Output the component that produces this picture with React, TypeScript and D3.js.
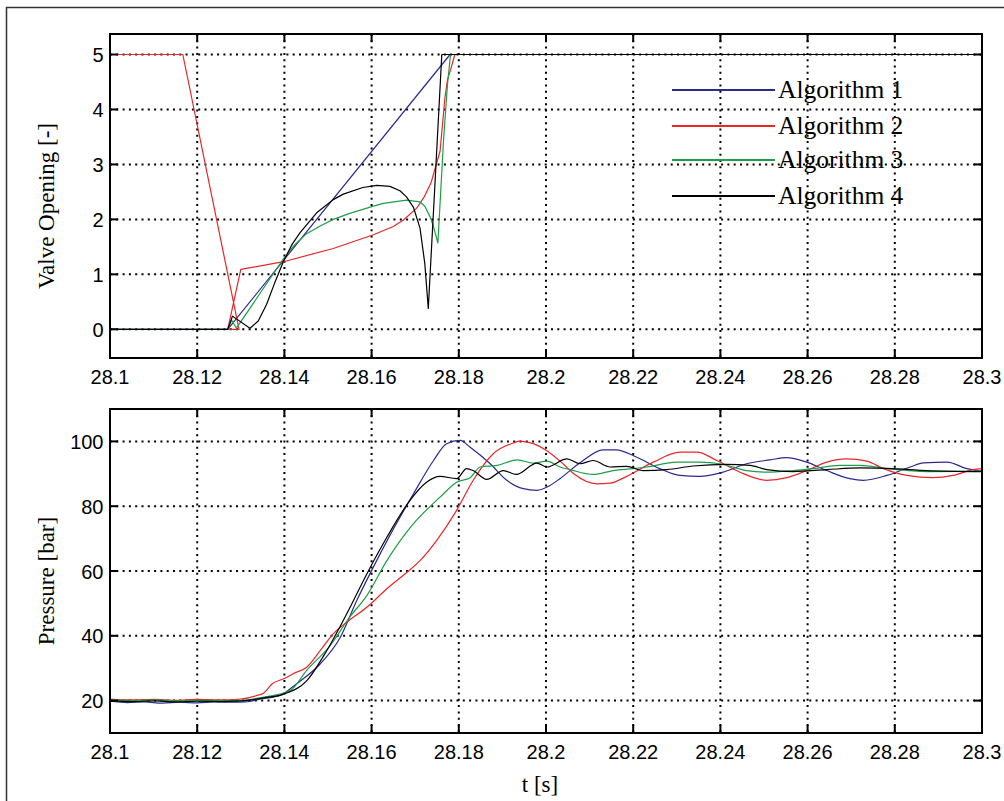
import React from "react";
import * as d3 from "d3";

type P = [number, number];

const xTicks = [28.1, 28.12, 28.14, 28.16, 28.18, 28.2, 28.22, 28.24, 28.26, 28.28, 28.3];
const xTickLabels = ["28.1", "28.12", "28.14", "28.16", "28.18", "28.2", "28.22", "28.24", "28.26", "28.28", "28.3"];
const valveTicks = [0, 1, 2, 3, 4, 5];
const pressureTicks = [20, 40, 60, 80, 100];
const seriesNames = ["Algorithm 1", "Algorithm 2", "Algorithm 3", "Algorithm 4"];
const seriesColors = ["#2b2a8e", "#e8272a", "#1c9e48", "#000000"];

const valveAlg1: P[] = [[28.1, 0], [28.127, 0], [28.178, 5], [28.3, 5]];
const valveAlg2: P[] = [
  [28.1, 5], [28.1167, 5], [28.1296, 0], [28.127, 0], [28.13, 1.09], [28.1398, 1.23], [28.1512, 1.47],
  [28.1604, 1.72], [28.165, 1.87], [28.1673, 1.99], [28.1703, 2.2], [28.172, 2.4], [28.1736, 2.66],
  [28.1757, 3.24], [28.1768, 4.2], [28.1774, 4.54], [28.1781, 4.72], [28.1791, 5], [28.3, 5],
];
const valveAlg3: P[] = [
  [28.1, 0], [28.1271, 0], [28.1279, 0.17], [28.129, 0.02], [28.1401, 1.32], [28.1425, 1.55], [28.1451, 1.74],
  [28.1482, 1.88], [28.1512, 2.0], [28.155, 2.11], [28.1604, 2.24], [28.1627, 2.29], [28.168, 2.35],
  [28.1711, 2.32], [28.1722, 2.24], [28.1734, 2.05], [28.1742, 1.87], [28.1752, 1.57], [28.1765, 3.44],
  [28.1774, 4.45], [28.1781, 5], [28.3, 5],
];
const valveAlg4: P[] = [
  [28.1, 0], [28.127, 0], [28.1281, 0.24], [28.1321, 0.02], [28.134, 0.15], [28.1359, 0.45], [28.1378, 0.85],
  [28.1398, 1.24], [28.1418, 1.55], [28.1436, 1.76], [28.1474, 2.12], [28.1512, 2.36], [28.1535, 2.46],
  [28.158, 2.58], [28.1612, 2.62], [28.1642, 2.6], [28.1665, 2.52], [28.168, 2.41], [28.1696, 2.22],
  [28.1711, 1.84], [28.1722, 1.2], [28.173, 0.38], [28.1745, 2.6], [28.1761, 5], [28.3, 5],
];

const pressureAlg1: P[] = [
  [28.1, 19.8], [28.104, 19.4], [28.108, 19.6], [28.112, 19.2], [28.116, 19.5], [28.12, 19.3], [28.124, 19.6],
  [28.128, 19.5], [28.131, 19.6], [28.135, 20.6], [28.139, 21.6], [28.1428, 25.2], [28.1482, 31.3],
  [28.1528, 39.5], [28.1566, 50.9], [28.1604, 61.2], [28.1642, 71], [28.1696, 83.8], [28.1742, 94.1],
  [28.1772, 99.3], [28.1803, 100.3], [28.1826, 98.2], [28.1872, 93.1], [28.191, 88], [28.1948, 85.4],
  [28.1979, 84.9], [28.2009, 86.4], [28.2032, 88.5], [28.2078, 93.4], [28.2131, 97.4], [28.2161, 97.4],
  [28.2207, 95.2], [28.2261, 91.6], [28.2307, 89.5], [28.2353, 89.2], [28.2406, 90.5], [28.246, 93.1],
  [28.2514, 94.3], [28.2552, 95], [28.2598, 93.6], [28.2644, 91], [28.2697, 88.5], [28.2728, 88],
  [28.2782, 89.5], [28.2835, 92.1], [28.2866, 93.4], [28.292, 93.6], [28.2965, 91.6], [28.3, 90.8],
];
const pressureAlg2: P[] = [
  [28.1, 20.5], [28.105, 20.2], [28.11, 20.4], [28.115, 20.1], [28.12, 20.4], [28.125, 20.2], [28.13, 20.5],
  [28.1335, 21.5], [28.1352, 22.3], [28.1372, 25.2], [28.14, 26.8], [28.142, 28.3], [28.1451, 30.3],
  [28.1482, 35.4], [28.1512, 40.6], [28.1543, 44.2], [28.1589, 48.8], [28.1635, 54.5], [28.1681, 59.6],
  [28.1711, 63.2], [28.1749, 69.4], [28.1795, 78.7], [28.1833, 88], [28.1879, 96.2], [28.1925, 99.5],
  [28.194, 100.1], [28.1971, 99.3], [28.2001, 97.2], [28.2039, 93.1], [28.2063, 90.1], [28.2117, 86.9],
  [28.2147, 87.1], [28.2185, 89.2], [28.2246, 93.6], [28.2307, 96.7], [28.2346, 96.7], [28.2392, 94.1],
  [28.2445, 90.5], [28.2506, 88], [28.2552, 88.8], [28.2598, 91], [28.2644, 93.6], [28.269, 94.6],
  [28.2736, 93.9], [28.2774, 91.6], [28.2828, 89.5], [28.2888, 88.8], [28.2934, 89.5], [28.298, 91.3],
  [28.3, 91.6],
];
const pressureAlg3: P[] = [
  [28.1, 20.3], [28.105, 20.0], [28.11, 20.2], [28.115, 19.9], [28.12, 20.1], [28.125, 20.0], [28.13, 20.1],
  [28.135, 21.0], [28.1413, 23.1], [28.1451, 29.3], [28.1505, 37.0], [28.155, 45.8], [28.1589, 52.4],
  [28.1635, 63.2], [28.1696, 74.6], [28.1757, 82.8], [28.1795, 87.4], [28.1826, 88.8], [28.1849, 92.1],
  [28.1888, 92.6], [28.1934, 94.3], [28.1971, 93.3], [28.2002, 93.9], [28.2032, 92.1], [28.2055, 91.3],
  [28.2108, 89.8], [28.2154, 91], [28.22, 91.6], [28.2231, 92.1], [28.23, 93.6], [28.2353, 93.6],
  [28.2399, 93.1], [28.246, 91], [28.2506, 90.5], [28.2567, 91], [28.2613, 91.6], [28.2674, 92.6],
  [28.272, 92.6], [28.2782, 91.6], [28.2873, 90.7], [28.3, 90.8],
];
const pressureAlg4: P[] = [
  [28.1, 19.9], [28.105, 19.7], [28.11, 19.9], [28.115, 19.6], [28.12, 19.8], [28.125, 19.7], [28.13, 19.9],
  [28.135, 20.8], [28.1398, 22], [28.1451, 26.1], [28.1497, 35.4], [28.1543, 46.8], [28.1589, 59.1],
  [28.1635, 70.4], [28.1688, 81.8], [28.1726, 87.4], [28.1757, 89.2], [28.1795, 88.5], [28.1818, 91.6],
  [28.1833, 91], [28.1864, 88.3], [28.1902, 91], [28.1932, 89.8], [28.1979, 93.3], [28.2002, 92.1],
  [28.2048, 94.6], [28.2078, 93.1], [28.2108, 94.1], [28.2147, 92.1], [28.2185, 92.3], [28.2223, 91],
  [28.2277, 91.3], [28.2338, 92.4], [28.2414, 92.9], [28.2468, 92.6], [28.2506, 91.3], [28.2567, 90.7],
  [28.2644, 91.3], [28.272, 91.8], [28.2797, 91.6], [28.2873, 91], [28.3, 90.7],
];

const valveSeries = [valveAlg1, valveAlg2, valveAlg3, valveAlg4];
const pressureSeries = [pressureAlg1, pressureAlg2, pressureAlg3, pressureAlg4];

const X0 = 110;
const X1 = 982;
const SANS = "'Liberation Sans', Arial, sans-serif";
const SERIF = "'Liberation Serif', 'Times New Roman', serif";

function Panel({
  top, bottom, domain, yTicks, data, ylabel, legend, smooth,
}: {
  top: number; bottom: number; domain: [number, number]; yTicks: number[]; data: P[][]; ylabel: string;
  legend?: boolean; smooth?: boolean;
}) {
  const x = d3.scaleLinear().domain([28.1, 28.3]).range([X0, X1]);
  const y = d3.scaleLinear().domain(domain).range([bottom, top]);
  const line = d3.line<P>().x((d) => x(d[0])).y((d) => y(d[1]));
  if (smooth) line.curve(d3.curveMonotoneX);
  const grid = { stroke: "#000", strokeWidth: 2, strokeDasharray: "2 4.3" };
  const tick = 8;
  return (
    <g>
      <defs>
        <clipPath id={`clip${top}`}>
          <rect x={X0} y={top} width={X1 - X0} height={bottom - top} />
        </clipPath>
      </defs>
      {xTicks.map((t, i) => (
        <line key={`gx${i}`} x1={x(t)} x2={x(t)} y1={top} y2={bottom} {...grid} />
      ))}
      {yTicks.map((v, i) => (
        <line key={`gy${i}`} x1={X0} x2={X1} y1={y(v)} y2={y(v)} {...grid} />
      ))}
      <g clipPath={`url(#clip${top})`}>
        {data.map((s, i) => (
          <path key={`s${i}`} d={line(s) || ""} fill="none" stroke={seriesColors[i]} strokeWidth={1.2} strokeLinejoin="round" />
        ))}
      </g>
      <rect x={X0} y={top} width={X1 - X0} height={bottom - top} fill="none" stroke="#000" strokeWidth={2} />
      {xTicks.map((t, i) => (
        <g key={`tx${i}`}>
          <line x1={x(t)} x2={x(t)} y1={bottom} y2={bottom - tick} stroke="#000" strokeWidth={2} />
          <line x1={x(t)} x2={x(t)} y1={top} y2={top + tick} stroke="#000" strokeWidth={2} />
          <text x={x(t)} y={bottom + 25.5} textAnchor="middle" fontFamily={SANS} fontSize={20} fill="#000">
            {xTickLabels[i]}
          </text>
        </g>
      ))}
      {yTicks.map((v, i) => (
        <g key={`ty${i}`}>
          <line x1={X0} x2={X0 + tick} y1={y(v)} y2={y(v)} stroke="#000" strokeWidth={2} />
          <line x1={X1} x2={X1 - tick} y1={y(v)} y2={y(v)} stroke="#000" strokeWidth={2} />
          <text x={103.5} y={y(v) + 7.5} textAnchor="end" fontFamily={SANS} fontSize={20} fill="#000">
            {String(v)}
          </text>
        </g>
      ))}
      <text
        transform={`translate(${54},${(top + bottom) / 2 + 10}) rotate(-90)`}
        textAnchor="middle" fontFamily={SERIF} fontSize={23} fill="#000"
      >
        {ylabel}
      </text>
      {legend &&
        seriesNames.map((n, i) => {
          const ly = [90, 126, 160, 196][i];
          return (
            <g key={`lg${i}`}>
              <line x1={672} x2={775} y1={ly} y2={ly} stroke={seriesColors[i]} strokeWidth={2} />
              <text x={778} y={ly + 8} fontFamily={SERIF} fontSize={25.5} fill="#000">
                {n}
              </text>
            </g>
          );
        })}
    </g>
  );
}

export default function App() {
  return (
    <div style={{ position: "absolute", left: 0, top: 0 }}>
      <svg width={1004} height={801} style={{ display: "block", background: "#fff" }}>
        <rect x={0} y={0} width={1004} height={801} fill="#fff" />
        <rect x={6.5} y={7.5} width={1010} height={810} fill="none" stroke="#333" strokeWidth={1.5} />
        <Panel top={34} bottom={358} domain={[-0.522, 5.373]} yTicks={valveTicks} data={valveSeries} ylabel="Valve Opening [-]" legend />
        <Panel top={409} bottom={733} domain={[10, 110]} yTicks={pressureTicks} data={pressureSeries} ylabel="Pressure [bar]" smooth />
        <text x={540} y={792} textAnchor="middle" fontFamily={SERIF} fontSize={23} fill="#000">
          t [s]
        </text>
      </svg>
    </div>
  );
}
